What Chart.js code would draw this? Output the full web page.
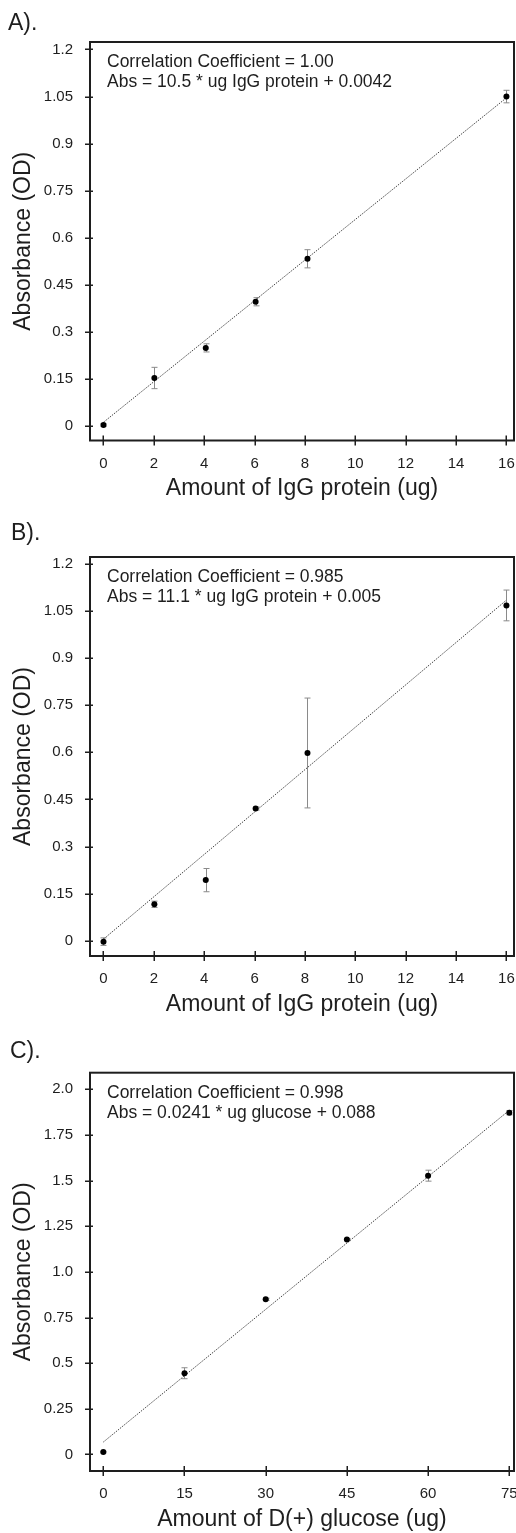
<!DOCTYPE html>
<html>
<head>
<meta charset="utf-8">
<script src="https://cdn.jsdelivr.net/npm/chart.js@4.4.1/dist/chart.umd.min.js"></script>
<style>
  body { margin: 0; background: #fff; }
  #wrap { position: relative; width: 516px; height: 1533px; }
  canvas { position: absolute; left: 0; }
</style>
</head>
<body>
<div id="wrap">
  <canvas id="chartA" width="516" height="512" style="top:0"></canvas>
  <canvas id="chartB" width="516" height="518" style="top:512px"></canvas>
  <canvas id="chartC" width="516" height="503" style="top:1030px"></canvas>
</div>
<script>
const FONT = '"Liberation Sans", Arial, sans-serif';
const INK = '#1e1e1e';

// shared axes for the two IgG panels
const xTicksIgG = [0, 2, 4, 6, 8, 10, 12, 14, 16];
const xLabelsIgG = ['0', '2', '4', '6', '8', '10', '12', '14', '16'];
const yTicksIgG = [0, 0.15, 0.3, 0.45, 0.6, 0.75, 0.9, 1.05, 1.2];
const yLabelsIgG = ['0', '0.15', '0.3', '0.45', '0.6', '0.75', '0.9', '1.05', '1.2'];

// panel A
const amountA = [0, 2.02, 4.06, 6.04, 8.1, 16];
const absA = [0.003, 0.153, 0.249, 0.396, 0.533, 1.05];
const errA = [0.004, 0.034, 0.013, 0.013, 0.029, 0.02];
const fitXA = [0, 16];
const fitYA = [0.012, 1.046];
const noteA = ['Correlation Coefficient = 1.00', 'Abs = 10.5 * ug IgG protein + 0.0042'];

// panel B
const amountB = [0, 2.02, 4.06, 6.04, 8.1, 16];
const absB = [-0.003, 0.116, 0.193, 0.421, 0.598, 1.068];
const errB = [0.012, 0.01, 0.037, 0.005, 0.175, 0.049];
const fitXB = [0, 16];
const fitYB = [0.005, 1.085];
const noteB = ['Correlation Coefficient = 0.985', 'Abs = 11.1 * ug IgG protein + 0.005'];

// panel C
const xTicksGlc = [0, 15, 30, 45, 60, 75];
const xLabelsGlc = ['0', '15', '30', '45', '60', '75'];
const yTicksGlc = [0, 0.25, 0.5, 0.75, 1.0, 1.25, 1.5, 1.75, 2.0];
const yLabelsGlc = ['0', '0.25', '0.5', '0.75', '1.0', '1.25', '1.5', '1.75', '2.0'];
const amountC = [0, 15, 30, 45, 60, 75];
const absC = [0.013, 0.445, 0.85, 1.177, 1.527, 1.872];
const errC = [0.004, 0.03, 0.006, 0.006, 0.03, 0.012];
const fitXC = [0, 75];
const fitYC = [0.068, 1.885];
const noteC = ['Correlation Coefficient = 0.998', 'Abs = 0.0241 * ug glucose + 0.088'];

function framePlugin(cfg) {
  return {
    id: 'frame',
    beforeDatasetsDraw(chart) {
      const { ctx, scales: { x, y } } = chart;
      ctx.save();
      ctx.strokeStyle = '#8a8a8a';
      ctx.lineWidth = 1;
      cfg.x.forEach((xv, i) => {
        const px = Math.round(x.getPixelForValue(xv)) + 0.5;
        const t = y.getPixelForValue(cfg.y[i] + cfg.err[i]);
        const b = y.getPixelForValue(cfg.y[i] - cfg.err[i]);
        ctx.beginPath();
        ctx.moveTo(px, t); ctx.lineTo(px, b);
        ctx.moveTo(px - 3, t); ctx.lineTo(px + 3, t);
        ctx.moveTo(px - 3, b); ctx.lineTo(px + 3, b);
        ctx.stroke();
      });
      ctx.restore();
    },
    afterDraw(chart) {
      const { ctx, chartArea: a, scales: { x, y } } = chart;
      ctx.save();
      // plot frame
      ctx.strokeStyle = INK;
      ctx.lineWidth = 2;
      ctx.strokeRect(a.left, a.top, a.right - a.left, a.bottom - a.top);
      // tick marks crossing the axes
      ctx.lineWidth = 1.5;
      ctx.beginPath();
      cfg.yTicks.forEach(v => {
        const py = Math.round(y.getPixelForValue(v)) + 0.25;
        ctx.moveTo(a.left - 5, py); ctx.lineTo(a.left + 3, py);
      });
      cfg.xTicks.forEach(v => {
        const px = Math.round(x.getPixelForValue(v)) + 0.25;
        ctx.moveTo(px, a.bottom - 5); ctx.lineTo(px, a.bottom + 5);
      });
      ctx.stroke();
      // equation text
      ctx.fillStyle = INK;
      ctx.font = '17.5px ' + FONT;
      ctx.textBaseline = 'alphabetic';
      ctx.fillText(cfg.note[0], a.left + 17, a.top + 25);
      ctx.fillText(cfg.note[1], a.left + 17, a.top + 45);
      // panel letter
      ctx.font = '23px ' + FONT;
      ctx.fillText(cfg.letter, cfg.letterX, cfg.letterY);
      ctx.restore();
    }
  };
}

function makeChart(id, cfg) {
  const canvas = document.getElementById(id);
  const H = canvas.height;
  const tickFont = { family: FONT, size: 15 };
  return new Chart(canvas, {
    type: 'scatter',
    data: {
      datasets: [
        {
          data: cfg.fitX.map((v, i) => ({ x: v, y: cfg.fitY[i] })),
          showLine: true,
          borderColor: '#444',
          borderWidth: 1,
          borderDash: [1.5, 1.2],
          pointRadius: 0,
          order: 2
        },
        {
          data: cfg.x.map((v, i) => ({ x: v, y: cfg.y[i] })),
          backgroundColor: '#000',
          borderColor: '#000',
          borderWidth: 0,
          pointRadius: 3,
          order: 1
        }
      ]
    },
    options: {
      responsive: false,
      animation: false,
      devicePixelRatio: 1,
      layout: { autoPadding: false, padding: { top: cfg.top, right: 2, left: 0, bottom: 0 } },
      plugins: { legend: { display: false }, tooltip: { enabled: false } },
      scales: {
        x: {
          type: 'linear',
          min: cfg.xMin, max: cfg.xMax,
          afterBuildTicks: s => { s.ticks = cfg.xTicks.map(v => ({ value: v })); },
          afterFit: s => {
            s.height = H - cfg.bottom;
            s.paddingLeft = 0;
            s.paddingRight = 0;
          },
          grid: { display: false, tickLength: 5 },
          border: { display: false },
          ticks: { padding: 9, font: tickFont, color: INK, maxRotation: 0, autoSkip: false,
                   callback: (v, i) => cfg.xLabels[i] },
          title: { display: true, text: cfg.xTitle, color: INK,
                   font: { family: FONT, size: 23 }, padding: { top: 0, bottom: cfg.titlePad } }
        },
        y: {
          type: 'linear',
          min: cfg.yMin, max: cfg.yMax,
          afterBuildTicks: s => { s.ticks = cfg.yTicks.map(v => ({ value: v })); },
          afterFit: s => {
            s.width = 90;
            s.paddingTop = 0;
            s.paddingBottom = 0;
          },
          grid: { display: false, tickLength: 5 },
          border: { display: false },
          ticks: { padding: 12, font: tickFont, color: INK, autoSkip: false,
                   callback: (v, i) => cfg.yLabels[i] },
          title: { display: true, text: 'Absorbance (OD)', color: INK,
                   font: { family: FONT, size: 23 }, padding: { top: 10, bottom: 0 } }
        }
      }
    },
    plugins: [framePlugin(cfg)]
  });
}

makeChart('chartA', {
  x: amountA, y: absA, err: errA, fitX: fitXA, fitY: fitYA, note: noteA,
  letter: 'A).', letterX: 8, letterY: 30,
  xTicks: xTicksIgG, xLabels: xLabelsIgG, yTicks: yTicksIgG, yLabels: yLabelsIgG,
  xMin: -0.536, xMax: 16.3, yMin: -0.0462, yMax: 1.2239,
  top: 42, bottom: 440.5, titlePad: 10, xTitle: 'Amount of IgG protein (ug)'
});

makeChart('chartB', {
  x: amountB, y: absB, err: errB, fitX: fitXB, fitY: fitYB, note: noteB,
  letter: 'B).', letterX: 11, letterY: 28,
  xTicks: xTicksIgG, xLabels: xLabelsIgG, yTicks: yTicksIgG, yLabels: yLabelsIgG,
  xMin: -0.536, xMax: 16.3, yMin: -0.0487, yMax: 1.2223,
  top: 45, bottom: 444, titlePad: 12, xTitle: 'Amount of IgG protein (ug)'
});

makeChart('chartC', {
  x: amountC, y: absC, err: errC, fitX: fitXC, fitY: fitYC, note: noteC,
  letter: 'C).', letterX: 10, letterY: 28.3,
  xTicks: xTicksGlc, xLabels: xLabelsGlc, yTicks: yTicksGlc, yLabels: yLabelsGlc,
  xMin: -2.457, xMax: 75.87, yMin: -0.0904, yMax: 2.0909,
  top: 42.7, bottom: 441, titlePad: 0, xTitle: 'Amount of D(+) glucose (ug)'
});
</script>
</body>
</html>
